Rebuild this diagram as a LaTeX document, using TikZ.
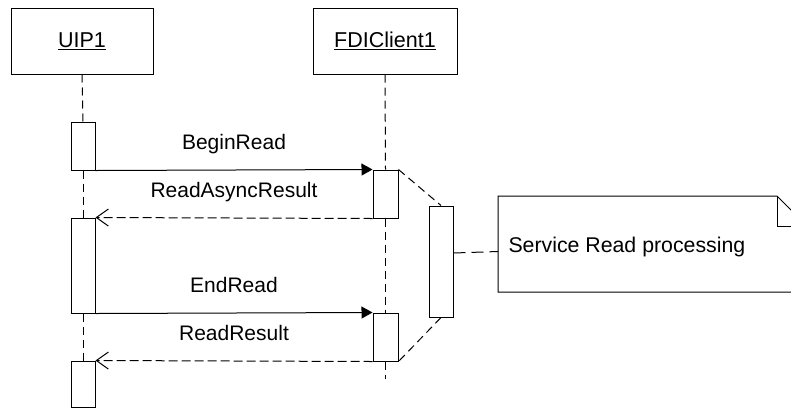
\documentclass[tikz,border=0pt]{standalone}
\usepackage{fontspec}
\setmainfont{Liberation Sans}
\usetikzlibrary{arrows.meta,calc}
\begin{document}
\begin{tikzpicture}[x=1pt,y=-1pt,line width=1pt,
  objbox/.style={draw,rectangle,minimum width=142pt,minimum height=66pt,inner sep=0pt,font=\fontsize{21.5}{25}\selectfont},
  actbar/.style={draw,fill=white,rectangle,minimum width=24pt,inner sep=0pt},
  life/.style={dash pattern=on 8pt off 5pt},
  sync/.style={-{Triangle[length=11pt,width=12pt]}},
  reply/.style={dash pattern=on 9pt off 4pt,-{Straight Barb[length=12pt,width=17pt]}},
  lbl/.style={font=\fontsize{21}{25}\selectfont,anchor=base,inner sep=0pt,yshift=21pt},
  notelink/.style={dash pattern=on 12pt off 6pt}]
\useasboundingbox (0,0) rectangle (791,408);
\clip (0,0) rectangle (791,408);
% objects
\node[objbox] (uip) at (82,41) {\underline{UIP1}};
\node[objbox,minimum width=144pt] (fdi) at (385,41) {\underline{FDIClient1}};
% activation bars
\node[actbar,minimum height=48pt] (act1) at (83,146) {};
\node[actbar,minimum height=95pt] (act2) at (83,265.5) {};
\node[actbar,minimum height=46pt] (act3) at (83,384) {};
\node[actbar,minimum width=25pt,minimum height=48pt] (fdiA) at (385.5,194) {};
\node[actbar,minimum width=25pt,minimum height=48pt] (fdiB) at (385.5,337) {};
\node[actbar,minimum height=111pt] (proc) at (441,261.5) {};
\coordinate (fdiend) at (385.5,379);
% lifelines
\draw[life] (uip.south) -- (act1.north);
\draw[life] (act1.south) -- (act2.north);
\draw[life] (act2.south) -- (act3.north);
\draw[life] (fdi.south) -- (fdiA.north);
\draw[life] (fdiA.south) -- (fdiB.north);
\draw[life] (fdiB.south) -- (fdiend);
% processing links
\draw[dash pattern=on 8pt off 5pt] (fdiA.north east) -- (proc.north);
\draw[dash pattern=on 8pt off 5pt] (proc.south) -- (fdiB.south east);
% messages
\draw[sync] (act1.south east) -- node[lbl] {BeginRead} (fdiA.north west);
\draw[reply] (fdiA.south west) -- node[lbl] {ReadAsyncResult} (act2.north east);
\draw[sync] (act2.south east) -- node[lbl] {EndRead} (fdiB.north west);
\draw[reply] (fdiB.south west) -- node[lbl] {ReadResult} (act3.north east);
% note
\node[rectangle,minimum width=308pt,minimum height=95pt,inner sep=0pt,anchor=north west] (note) at (498,196) {};
\draw (note.north west) -- ([xshift=-30pt]note.north east) -- ([yshift=-30pt]note.north east) -- (note.south east) -- (note.south west) -- cycle;
\draw ([xshift=-30pt]note.north east) -- ([xshift=-30pt,yshift=-30pt]note.north east) -- ([yshift=-30pt]note.north east);
\node[font=\fontsize{21.3}{25}\selectfont,anchor=base west,inner sep=0pt] (notetext) at (508,252) {Service Read processing};
\draw[notelink] ([yshift=8.5pt]proc.east) -- ([yshift=-7.5pt]note.west);
\end{tikzpicture}
\end{document}
